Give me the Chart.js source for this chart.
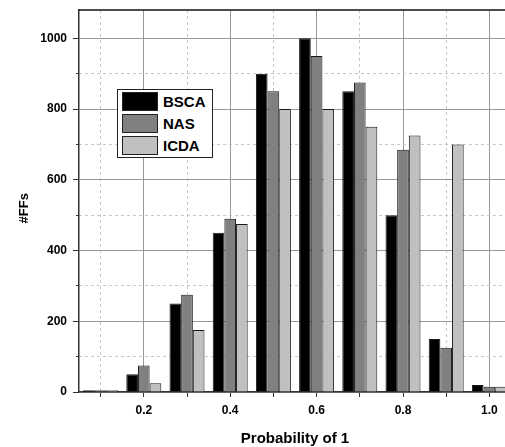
<!DOCTYPE html>
<html>
<head>
<meta charset="utf-8">
<script src="https://cdn.jsdelivr.net/npm/chart.js@4/dist/chart.umd.min.js"></script>
<style>
  html, body { margin: 0; padding: 0; background: #fff; overflow: hidden; }
  #wrap { position: relative; width: 511px; height: 447px; }
  #legend {
    position: absolute; left: 117px; top: 89px; width: 94px; height: 67px;
    border: 1px solid #222; background: #fff;
    font: bold 15px "Liberation Sans", Arial, sans-serif; color: #000;
  }
  .item { position: absolute; left: 4px; height: 19px; line-height: 19px; }
  .sw { position: absolute; left: 0; top: 0; width: 34px; height: 17px; border: 1px solid #222; }
  .lab { position: absolute; left: 41px; top: 0; white-space: nowrap; }
</style>
</head>
<body>
<div id="wrap">
  <canvas id="chart" width="511" height="447"></canvas>
  <div id="legend"></div>
</div>
<script>
const categories = ["0.1", "0.2", "0.3", "0.4", "0.5", "0.6", "0.7", "0.8", "0.9", "1.0"];
const seriesNames = ["BSCA", "NAS", "ICDA"];
const bsca = [5, 50, 250, 450, 900, 1000, 850, 500, 150, 20];
const nas = [5, 75, 275, 490, 850, 950, 875, 685, 125, 15];
const icda = [5, 25, 175, 475, 800, 800, 750, 725, 700, 15];
const colors = ["#000000", "#808080", "#c0c0c0"];
const yTicks = [0, 200, 400, 600, 800, 1000];

const font = { family: "'Liberation Sans', Arial, sans-serif", weight: "bold" };

// black frame line along the top of the plot
const frame = {
  id: "frame",
  afterDraw(chart) {
    const { ctx, chartArea: a } = chart;
    ctx.save();
    ctx.strokeStyle = "#111";
    ctx.lineWidth = 1.5;
    ctx.beginPath();
    ctx.moveTo(a.left, a.top);
    ctx.lineTo(a.right, a.top);
    ctx.stroke();
    ctx.restore();
  }
};

const series = [bsca, nas, icda];
const datasets = series.map((d, i) => ({
  label: seriesNames[i],
  data: d,
  backgroundColor: colors[i],
  borderColor: "#1a1a1a",
  borderWidth: 1,
  categoryPercentage: 0.81,
  barPercentage: 1.0,
  xAxisID: "x",
  yAxisID: "y"
}));

new Chart(document.getElementById("chart"), {
  type: "bar",
  data: { labels: categories, datasets },
  plugins: [frame],
  options: {
    responsive: false,
    animation: false,
    layout: { padding: { top: 10, left: 0, right: 0, bottom: 0 } },
    plugins: { legend: { display: false }, tooltip: { enabled: false } },
    scales: {
      x: {
        type: "category",
        offset: true,
        weight: 1,
        afterFit: s => { s.height = 55; },
        grid: {
          offset: false,
          color: c => (c.index % 2 === 1 ? "#999" : "transparent"),
          tickColor: "#333",
          tickLength: 5
        },
        border: { color: "#333", width: 1.5 },
        ticks: {
          autoSkip: false,
          maxRotation: 0,
          padding: 6,
          color: "#000",
          font: { ...font, size: 12 },
          callback: function (v, i) { return i % 2 === 1 ? this.getLabelForValue(v) : ""; }
        },
        title: {
          display: true,
          text: "Probability of 1",
          color: "#000",
          font: { ...font, size: 15 },
          padding: { top: 0, bottom: -1 }
        }
      },
      x2: {
        type: "category",
        offset: true,
        weight: 0,
        afterFit: s => { s.height = 0; },
        grid: {
          offset: false,
          color: c => (c.index % 2 === 0 ? "#c8c8c8" : "transparent"),
          drawTicks: false
        },
        border: { display: false, dash: [3, 3] },
        ticks: { display: false }
      },
      y: {
        min: 0,
        max: 1080,
        weight: 1,
        afterFit: s => { s.width = 79; s.paddingTop = 0; s.paddingBottom = 0; },
        grid: {
          color: c => (c.tick && yTicks.includes(c.tick.value) ? "#999" : "transparent"),
          tickColor: c => (c.tick && yTicks.includes(c.tick.value) ? "#333" : "transparent"),
          tickLength: 6
        },
        border: { color: "#333", width: 1.5 },
        ticks: {
          stepSize: 100,
          includeBounds: false,
          padding: 6,
          color: "#000",
          font: { ...font, size: 12 },
          callback: v => (yTicks.includes(v) ? String(v) : "")
        },
        title: {
          display: true,
          text: "#FFs    ",
          color: "#000",
          font: { ...font, size: 13 },
          padding: { top: 17, bottom: 0 }
        }
      },
      y2: {
        position: "left",
        min: 0,
        max: 1080,
        weight: 0,
        afterFit: s => { s.width = 0; s.paddingTop = 0; s.paddingBottom = 0; },
        grid: {
          color: c => (c.tick && !yTicks.includes(c.tick.value) ? "#c8c8c8" : "transparent"),
          tickColor: c => (c.tick && !yTicks.includes(c.tick.value) ? "#333" : "transparent"),
          tickLength: 3,
          tickBorderDash: []
        },
        border: { display: false, dash: [3, 3] },
        ticks: { stepSize: 100, includeBounds: false, display: false }
      }
    }
  }
});

// legend box inside the plot
const legend = document.getElementById("legend");
seriesNames.forEach((name, i) => {
  const item = document.createElement("div");
  item.className = "item";
  item.style.top = (2 + i * 22) + "px";
  item.innerHTML = '<div class="sw" style="background:' + colors[i] + '"></div><div class="lab">' + name + "</div>";
  legend.appendChild(item);
});
</script>
</body>
</html>
